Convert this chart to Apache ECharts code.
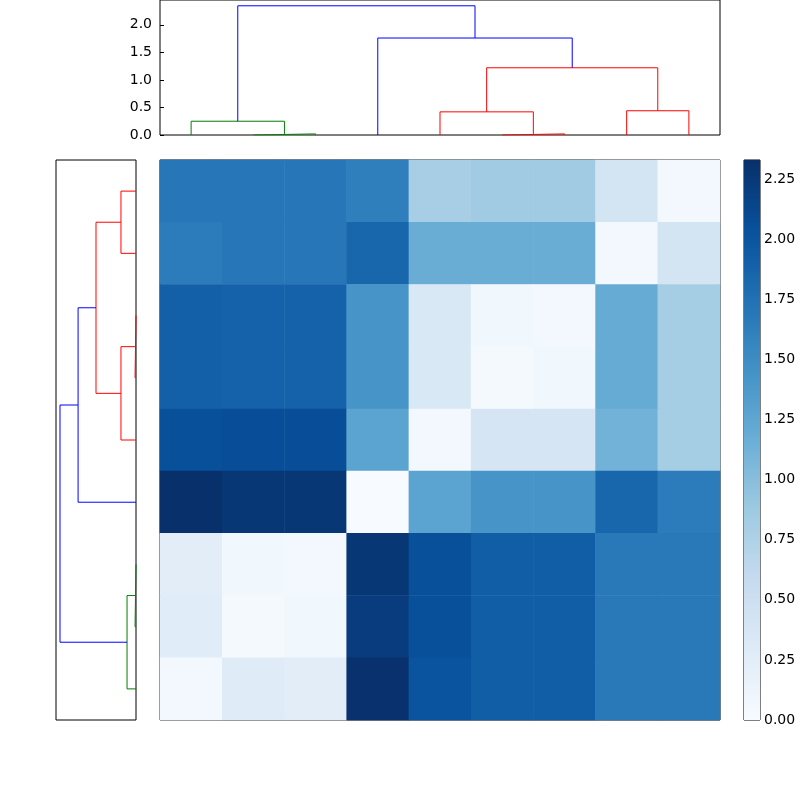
<!DOCTYPE html>
<html><head><meta charset="utf-8">
<script src="https://cdn.jsdelivr.net/npm/echarts@6/dist/echarts.min.js"></script>
<style>html,body{margin:0;background:#fff}#c{width:800px;height:800px}</style>
</head><body><div id="c"></div>
<script>
// Heatmap values (rows top->bottom, cols left->right)
const matrix = [
 [1.70,1.70,1.70,1.62,0.80,0.85,0.85,0.42,0.05],
 [1.65,1.70,1.70,1.85,1.18,1.18,1.18,0.05,0.42],
 [1.90,1.88,1.88,1.42,0.35,0.08,0.05,1.20,0.82],
 [1.90,1.88,1.88,1.42,0.35,0.03,0.08,1.20,0.82],
 [2.05,2.07,2.07,1.28,0.05,0.40,0.40,1.12,0.82],
 [2.33,2.27,2.27,0.00,1.28,1.42,1.42,1.85,1.65],
 [0.25,0.08,0.05,2.27,2.05,1.92,1.92,1.68,1.68],
 [0.27,0.04,0.08,2.22,2.05,1.92,1.92,1.68,1.68],
 [0.05,0.28,0.25,2.32,2.02,1.92,1.92,1.68,1.68]
];
const vmax = 2.33;
const cbTicks = ['0.00','0.25','0.50','0.75','1.00','1.25','1.50','1.75','2.00','2.25'];
// dendrogram links: [positions], [heights], color
const topLinks = [
 [[15,15,25,25],[0,0.02,0.02,0],'#008000'],
 [[5,5,20,20],[0,0.25,0.25,0.02],'#008000'],
 [[55,55,65,65],[0,0.02,0.02,0],'#ff0000'],
 [[45,45,60,60],[0,0.42,0.42,0.02],'#ff0000'],
 [[75,75,85,85],[0,0.44,0.44,0],'#ff0000'],
 [[52.5,52.5,80,80],[0.42,1.22,1.22,0.44],'#ff0000'],
 [[35,35,66.25,66.25],[0,1.76,1.76,1.22],'#0000ff'],
 [[12.5,12.5,50.625,50.625],[0.25,2.345,2.345,1.76],'#0000ff']
];
const leftLinks = [
 [[5,5,15,15],[0,0.47,0.47,0],'#ff0000'],
 [[25,25,35,35],[0,0.03,0.03,0],'#ff0000'],
 [[30,30,45,45],[0.03,0.47,0.47,0],'#ff0000'],
 [[10,10,37.5,37.5],[0.47,1.25,1.25,0.47],'#ff0000'],
 [[23.75,23.75,55,55],[1.25,1.81,1.81,0],'#0000ff'],
 [[65,65,75,75],[0,0.03,0.03,0],'#008000'],
 [[70,70,85,85],[0.03,0.28,0.28,0],'#008000'],
 [[39.375,39.375,77.5,77.5],[1.81,2.375,2.375,0.28],'#0000ff']
];
const blues = ['#f7fbff','#deebf7','#c6dbef','#9ecae1','#6baed6','#4292c6','#2171b5','#08519c','#08306b'];

const font = {fontFamily:'DejaVu Sans',fontSize:14,color:'#000'};
const hidden = {show:false};
const heatData = [];
matrix.forEach((r,i)=>r.forEach((v,j)=>heatData.push([j,i,v])));
const series = [];
topLinks.forEach(l=>series.push({type:'line',xAxisIndex:0,yAxisIndex:0,symbol:'none',animation:false,
  lineStyle:{color:l[2],width:1},data:l[0].map((p,k)=>[p,l[1][k]])}));
leftLinks.forEach(l=>series.push({type:'line',xAxisIndex:1,yAxisIndex:1,symbol:'none',animation:false,
  lineStyle:{color:l[2],width:1},data:l[0].map((p,k)=>[l[1][k],p])}));
series.push({type:'heatmap',xAxisIndex:2,yAxisIndex:2,data:heatData,animation:false});
series.push({type:'bar',xAxisIndex:3,yAxisIndex:3,data:[vmax],barWidth:'100%',animation:false,silent:true,
  itemStyle:{color:new echarts.graphic.LinearGradient(0,1,0,0,blues.map((c,i)=>({offset:i/(blues.length-1),color:c})))}});
const border = {show:true,borderColor:'#000',borderWidth:1,backgroundColor:'transparent'};
const opt = {
 animation:false,
 grid:[
  Object.assign({left:160,top:0,width:560,height:135},border),
  Object.assign({left:56,top:160,width:80,height:560},border),
  Object.assign({left:160,top:160,width:560,height:560},border),
  Object.assign({left:744,top:160,width:16,height:560},border)
 ],
 xAxis:[
  {gridIndex:0,type:'value',min:0,max:90,show:false},
  {gridIndex:1,type:'value',min:0,max:2.5,inverse:true,show:false},
  {gridIndex:2,type:'category',data:[0,1,2,3,4,5,6,7,8],show:false},
  {gridIndex:3,type:'category',data:['c'],show:false}
 ],
 yAxis:[
  {gridIndex:0,type:'value',min:0,max:2.45,interval:0.5,splitLine:hidden,
   axisLine:hidden,axisTick:{inside:true,length:4,lineStyle:{color:'#000'}},
   axisLabel:Object.assign({formatter:v=>v.toFixed(1),margin:8,showMaxLabel:false},font)},
  {gridIndex:1,type:'value',min:0,max:90,inverse:true,show:false},
  {gridIndex:2,type:'category',data:[0,1,2,3,4,5,6,7,8],inverse:true,show:false},
  {gridIndex:3,type:'value',position:'right',min:0,max:vmax,interval:0.25,splitLine:hidden,
   axisLine:hidden,axisTick:{inside:true,length:4,lineStyle:{color:'#000'}},
   axisLabel:Object.assign({formatter:v=>cbTicks[Math.round(v/0.25)]||'',margin:4,showMaxLabel:false},font)}
 ],
 visualMap:{show:false,min:0,max:vmax,seriesIndex:series.length-2,inRange:{color:blues}},
 series
};
echarts.init(document.getElementById('c')).setOption(opt);
</script></body></html>
